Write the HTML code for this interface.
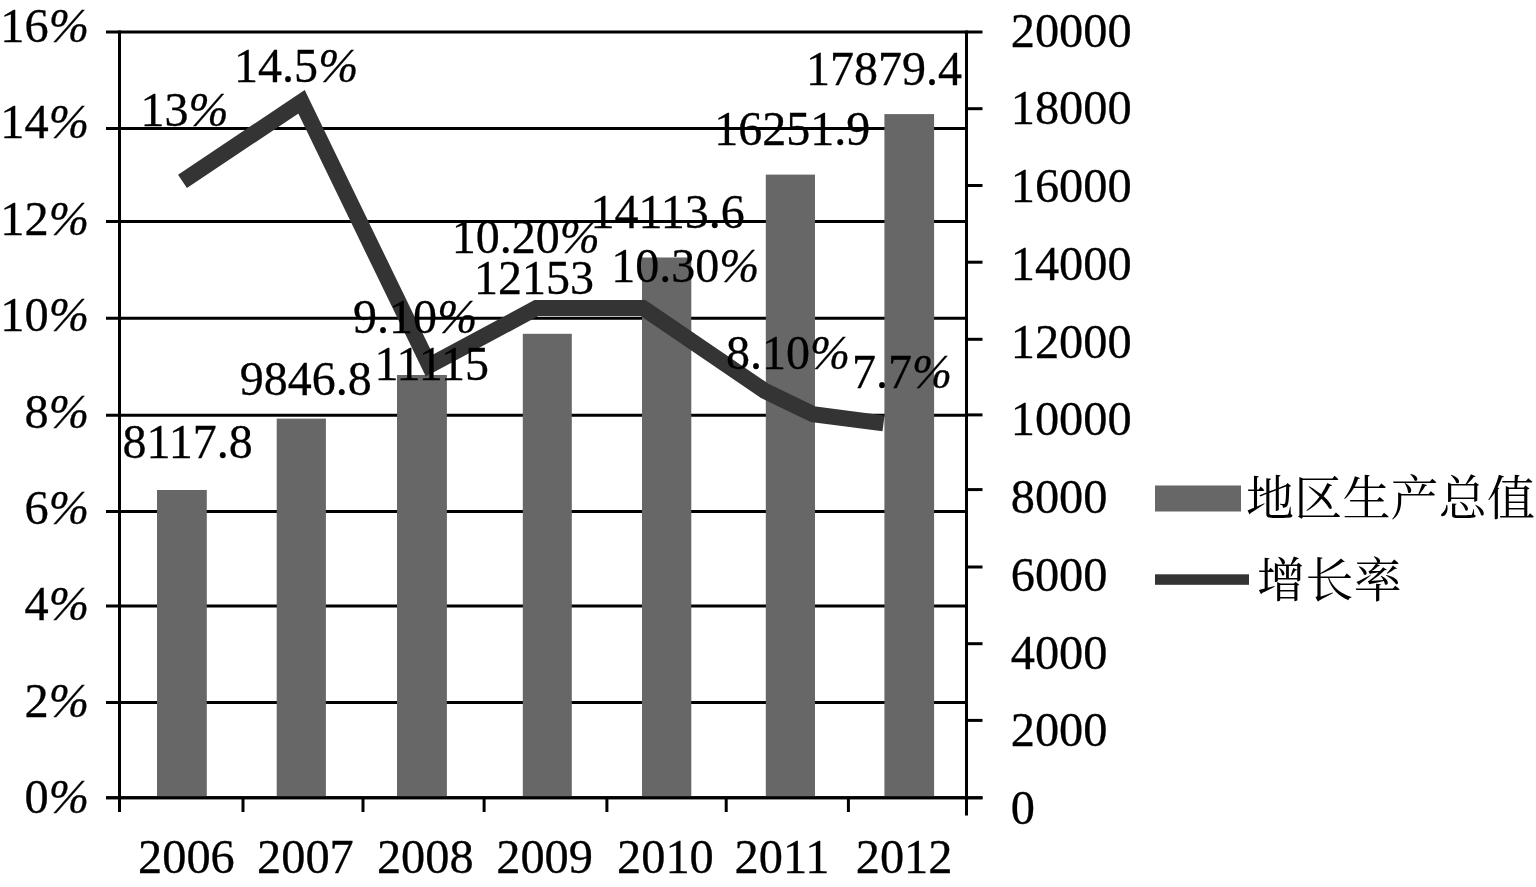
<!DOCTYPE html>
<html lang="zh"><head><meta charset="utf-8"><title>chart</title>
<style>
html,body{margin:0;padding:0;background:#fff;overflow:hidden}
svg{display:block}
text{font-family:"Liberation Serif",serif;font-size:48px;fill:#000;stroke:#000;stroke-width:0.3px}
text.pc{font-style:italic}
text.lg{font-family:"Liberation Serif","Noto Serif CJK SC",serif;stroke:none}
.ax{stroke:#000;stroke-width:3;fill:none}
</style></head><body>
<svg width="1536" height="887" viewBox="0 0 1536 887" style="filter:grayscale(1)">
<rect width="1536" height="887" fill="#fff"/>
<g class="ax">
<line x1="106" y1="32.0" x2="966.5" y2="32.0"/>
<line x1="106" y1="128.6" x2="966.5" y2="128.6"/>
<line x1="106" y1="221.6" x2="966.5" y2="221.6"/>
<line x1="106" y1="318.2" x2="966.5" y2="318.2"/>
<line x1="106" y1="415.3" x2="966.5" y2="415.3"/>
<line x1="106" y1="511.6" x2="966.5" y2="511.6"/>
<line x1="106" y1="606.1" x2="966.5" y2="606.1"/>
<line x1="106" y1="702.6" x2="966.5" y2="702.6"/>
<line x1="106" y1="797.8" x2="966.5" y2="797.8"/>
</g>
<g fill="#676767">
<rect x="157.0" y="490.0" width="49.8" height="307.8"/>
<rect x="276.7" y="418.6" width="49.2" height="379.2"/>
<rect x="397.0" y="375.0" width="49.9" height="422.8"/>
<rect x="522.8" y="333.8" width="49.0" height="464.0"/>
<rect x="642.0" y="257.5" width="49.3" height="540.3"/>
<rect x="765.8" y="174.6" width="49.2" height="623.2"/>
<rect x="884.4" y="114.1" width="49.7" height="683.7"/>
</g>
<g class="ax">
<line x1="119.5" y1="30.5" x2="119.5" y2="812.0"/>
<line x1="966.5" y1="30.5" x2="966.5" y2="815.5"/>
<line x1="106" y1="797.8" x2="982.5" y2="797.8"/>
<line x1="243.0" y1="797.8" x2="243.0" y2="812"/>
<line x1="363.0" y1="797.8" x2="363.0" y2="812"/>
<line x1="484.1" y1="797.8" x2="484.1" y2="812"/>
<line x1="606.9" y1="797.8" x2="606.9" y2="812"/>
<line x1="726.2" y1="797.8" x2="726.2" y2="812"/>
<line x1="848.4" y1="797.8" x2="848.4" y2="812"/>
<line x1="966.5" y1="32.0" x2="982.5" y2="32.0"/>
<line x1="966.5" y1="108.7" x2="982.5" y2="108.7"/>
<line x1="966.5" y1="185.5" x2="982.5" y2="185.5"/>
<line x1="966.5" y1="262.2" x2="982.5" y2="262.2"/>
<line x1="966.5" y1="339.3" x2="982.5" y2="339.3"/>
<line x1="966.5" y1="414.9" x2="982.5" y2="414.9"/>
<line x1="966.5" y1="489.6" x2="982.5" y2="489.6"/>
<line x1="966.5" y1="567.0" x2="982.5" y2="567.0"/>
<line x1="966.5" y1="643.7" x2="982.5" y2="643.7"/>
<line x1="966.5" y1="720.4" x2="982.5" y2="720.4"/>
<line x1="966.5" y1="797.8" x2="982.5" y2="797.8"/>
</g>
<polyline fill="none" stroke="#343434" stroke-width="16.0" stroke-linejoin="miter" stroke-miterlimit="10" points="182.5,181.3 301.5,101.8 429.4,365.6 536.5,308.0 643.0,308.0 765.0,391.0 813.0,414.3 883.5,423.4"/>
<g>
<text transform="translate(0.3 41.7) scale(1.008 1)">16</text><text class="pc" transform="translate(48.70 41.7) scale(1.008 1)">%</text>
<text transform="translate(0.3 138.1) scale(1.008 1)">14</text><text class="pc" transform="translate(48.70 138.1) scale(1.008 1)">%</text>
<text transform="translate(0.3 234.6) scale(1.008 1)">12</text><text class="pc" transform="translate(48.70 234.6) scale(1.008 1)">%</text>
<text transform="translate(0.3 331.0) scale(1.008 1)">10</text><text class="pc" transform="translate(48.70 331.0) scale(1.008 1)">%</text>
<text transform="translate(24.5 427.5) scale(1.008 1)">8</text><text class="pc" transform="translate(48.70 427.5) scale(1.008 1)">%</text>
<text transform="translate(24.5 523.9) scale(1.008 1)">6</text><text class="pc" transform="translate(48.70 523.9) scale(1.008 1)">%</text>
<text transform="translate(24.5 620.3) scale(1.008 1)">4</text><text class="pc" transform="translate(48.70 620.3) scale(1.008 1)">%</text>
<text transform="translate(24.5 716.8) scale(1.008 1)">2</text><text class="pc" transform="translate(48.70 716.8) scale(1.008 1)">%</text>
<text transform="translate(24.5 813.2) scale(1.008 1)">0</text><text class="pc" transform="translate(48.70 813.2) scale(1.008 1)">%</text>
<text transform="translate(1010.7 46.7) scale(1.008 1)">20000</text>
<text transform="translate(1010.7 124.4) scale(1.008 1)">18000</text>
<text transform="translate(1010.7 202.2) scale(1.008 1)">16000</text>
<text transform="translate(1010.7 279.9) scale(1.008 1)">14000</text>
<text transform="translate(1010.7 357.6) scale(1.008 1)">12000</text>
<text transform="translate(1010.7 435.4) scale(1.008 1)">10000</text>
<text transform="translate(1010.7 513.1) scale(1.008 1)">8000</text>
<text transform="translate(1010.7 590.8) scale(1.008 1)">6000</text>
<text transform="translate(1010.7 668.5) scale(1.008 1)">4000</text>
<text transform="translate(1010.7 746.3) scale(1.008 1)">2000</text>
<text transform="translate(1010.7 824.0) scale(1.008 1)">0</text>
<text transform="translate(138.0 873.0) scale(1.008 1)">2006</text>
<text transform="translate(257.0 873.0) scale(1.008 1)">2007</text>
<text transform="translate(376.9 873.0) scale(1.008 1)">2008</text>
<text transform="translate(496.2 873.0) scale(1.008 1)">2009</text>
<text transform="translate(617.0 873.0) scale(1.008 1)">2010</text>
<text transform="translate(734.5 873.0) scale(1.008 1)">2011</text>
<text transform="translate(855.7 873.0) scale(1.008 1)">2012</text>
</g>
<g>
<text x="140.5" y="125.8">13</text><text class="pc" x="188.50" y="125.8">%</text>
<text x="234.1" y="81.7">14.5</text><text class="pc" x="318.15" y="81.7">%</text>
<text x="122.5" y="458.0">8117.8</text>
<text x="239.8" y="394.7">9846.8</text>
<text x="353.1" y="333.3">9.10</text><text class="pc" x="437.15" y="333.3">%</text>
<text x="374.4" y="379.8">11115</text>
<text x="451.8" y="252.6">10.20</text><text class="pc" x="559.80" y="252.6">%</text>
<text x="474.1" y="294.0">12153</text>
<text x="590.6" y="228.3">14113.6</text>
<text x="611.2" y="282.3">10.30</text><text class="pc" x="719.20" y="282.3">%</text>
<text x="714.2" y="145.4">16251.9</text>
<text x="806.0" y="84.9">17879.4</text>
<text x="726.0" y="369.2">8.10</text><text class="pc" x="810.00" y="369.2">%</text>
<text x="852.1" y="387.5">7.7</text><text class="pc" x="912.10" y="387.5">%</text>
</g>
<rect x="1155" y="485.5" width="86" height="26" fill="#676767"/>
<rect x="1155" y="574.3" width="94" height="10.5" fill="#343434"/>
<g fill="#000">
<text class="lg" x="1246.0" y="515.3" letter-spacing="0.2">地区生产总值</text>
</g>
<g fill="#000">
<text class="lg" x="1257.0" y="596.5" letter-spacing="0.4">增长率</text>
</g>
</svg>
</body></html>
